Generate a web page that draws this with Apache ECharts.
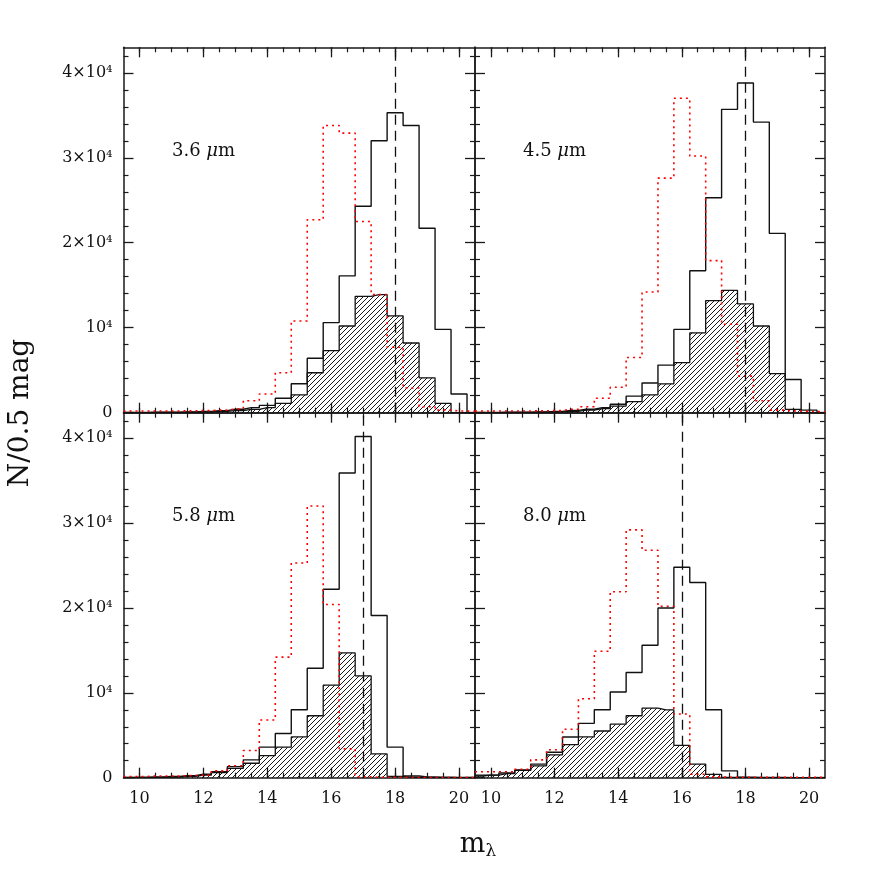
<!DOCTYPE html>
<html><head><meta charset="utf-8">
<script src="https://cdn.jsdelivr.net/npm/echarts@6/dist/echarts.min.js"></script>
<style>html,body{margin:0;padding:0;background:#fff}#c{width:872px;height:872px}</style>
</head><body><div id="c"></div>
<script>
// bin centres (0.5 mag bins)
const binCenters = [9.5,10,10.5,11,11.5,12,12.5,13,13.5,14,14.5,15,15.5,16,16.5,17,17.5,18,18.5,19,19.5,20,20.5];

const panelLabels = ['3.6', '4.5', '5.8', '8.0'];
const cutoffMag = [18, 18, 17, 16];

// 3.6 um
const total36   = [30,40,50,70,100,150,250,400,600,860,1700,3400,6400,10600,16100,24300,32000,35300,33800,21700,9800,2200,0];
const hatched36 = [10,20,30,40,60,100,150,250,400,600,1100,2100,4700,7300,10200,13700,13900,11400,8200,4100,1100,0,0];
const red36     = [200,200,200,200,220,250,300,450,1400,2200,4700,10800,22700,33800,32900,22500,13900,7700,2900,700,300,200,150];
// 4.5 um
const total45   = [30,40,50,70,100,150,270,400,600,1000,1950,3500,5600,9800,16700,25300,35700,38800,34200,21100,3900,300,0];
const hatched45 = [10,20,30,40,60,100,150,300,470,780,1300,2100,3400,5900,9400,13200,14400,12800,10200,4600,400,0,0];
const red45     = [200,200,200,200,220,250,400,700,1700,3000,6500,14200,27600,37000,30200,17900,10400,4300,1400,300,200,150,100];
// 5.8 um
const total58   = [20,50,100,150,230,400,700,1300,2100,3600,5200,8000,12900,22200,35900,40200,19100,3600,200,100,50,30,20];
const hatched58 = [10,20,50,80,150,300,600,1100,1700,2600,3600,4800,7300,10900,14700,12000,2800,150,50,0,0,0,0];
const red58     = [150,150,200,200,250,300,800,1400,3200,6800,14200,25300,32000,20400,3400,100,50,50,30,30,30,30,30];
// 8.0 um
const total80   = [300,300,550,900,1600,3000,4800,6400,8000,10100,12400,15600,20000,24800,23000,8000,800,50,30,20,10,10,10];
const hatched80 = [200,300,470,860,1400,2700,3900,4800,5500,6300,7300,8200,8000,3800,1600,400,50,0,0,0,0,0,0];
const red80     = [700,700,700,1000,2100,3300,5700,9300,14900,21900,29200,26800,20200,7500,400,100,50,50,50,50,50,50,50];

const totals = [total36, total45, total58, total80];
const hatcheds = [hatched36, hatched45, hatched58, hatched80];
const reds = [red36, red45, red58, red80];

const xTickLabels = [10, 12, 14, 16, 18, 20];
const xMinorTicks = [10,10.5,11,11.5,12,12.5,13,13.5,14,14.5,15,15.5,16,16.5,17,17.5,18,18.5,19,19.5,20];
const yTickValues = [0, 10000, 20000, 30000, 40000];
const yTickLabels = ['0', '10⁴', '2×10⁴', '3×10⁴', '4×10⁴'];
const yMinorTicks = [2000,4000,6000,8000,12000,14000,16000,18000,22000,24000,26000,28000,32000,34000,36000,38000,42000];

const X_MIN = 9.5, X_MAX = 20.5, Y_MIN = 0, Y_MAX = 43000;

function hatchCanvas() {
  const s = 5;
  const c = document.createElement('canvas');
  c.width = s; c.height = s;
  const g = c.getContext('2d');
  g.strokeStyle = '#000';
  g.lineWidth = 0.9;
  g.beginPath();
  g.moveTo(0, s); g.lineTo(s, 0);
  g.moveTo(-1, 1); g.lineTo(1, -1);
  g.moveTo(s - 1, s + 1); g.lineTo(s + 1, s - 1);
  g.stroke();
  return c;
}
const hatchPattern = { image: hatchCanvas(), repeat: 'repeat' };

const FONT = 'DejaVu Serif';
const grids = [
  { left: 123.5, top: 47.3, width: 351.5, height: 365.4 },
  { left: 475, top: 47.3, width: 350, height: 365.4 },
  { left: 123.5, top: 412.7, width: 351.5, height: 365 },
  { left: 475, top: 412.7, width: 350, height: 365 }
];

const xAxes = [], yAxes = [], series = [];
const lineCol = '#1a1a1a';
grids.forEach((g, i) => {
  const bottomRow = i >= 2, leftCol = (i % 2) === 0;
  const base = { type: 'value', gridIndex: i, min: X_MIN, max: X_MAX, splitLine: { show: false } };
  xAxes.push(Object.assign({}, base, {
    position: 'bottom',
    axisLine: { show: true, onZero: false, lineStyle: { color: lineCol, width: 1.5 } },
    axisTick: { show: true, inside: true, length: 10, customValues: xTickLabels, lineStyle: { color: lineCol, width: 1.3 } },
    axisLabel: { show: bottomRow, customValues: xTickLabels, margin: 13, color: '#111', fontFamily: FONT, fontSize: 16 }
  }));
  const xMainIndex = xAxes.length - 1;
  xAxes.push(Object.assign({}, base, {
    position: 'bottom',
    axisLine: { show: false, onZero: false },
    axisTick: { show: true, inside: true, length: 5, customValues: xMinorTicks, lineStyle: { color: lineCol, width: 1.2 } },
    axisLabel: { show: false }
  }));
  xAxes.push(Object.assign({}, base, {
    position: 'top',
    axisLine: { show: true, onZero: false, lineStyle: { color: lineCol, width: 1.5 } },
    axisTick: { show: true, inside: true, length: 10, customValues: xTickLabels, lineStyle: { color: lineCol, width: 1.3 } },
    axisLabel: { show: false }
  }));
  xAxes.push(Object.assign({}, base, {
    position: 'top',
    axisLine: { show: false, onZero: false },
    axisTick: { show: true, inside: true, length: 5, customValues: xMinorTicks, lineStyle: { color: lineCol, width: 1.2 } },
    axisLabel: { show: false }
  }));

  const ybase = { type: 'value', gridIndex: i, min: Y_MIN, max: Y_MAX, splitLine: { show: false } };
  yAxes.push(Object.assign({}, ybase, {
    position: 'left',
    axisLine: { show: true, onZero: false, lineStyle: { color: lineCol, width: 1.5 } },
    axisTick: { show: true, inside: true, length: 10, customValues: yTickValues, lineStyle: { color: lineCol, width: 1.3 } },
    axisLabel: {
      show: leftCol, customValues: yTickValues, margin: 11, color: '#111', fontFamily: FONT, fontSize: 16,
      formatter: v => yTickLabels[yTickValues.indexOf(v)]
    }
  }));
  const yMainIndex = yAxes.length - 1;
  yAxes.push(Object.assign({}, ybase, {
    position: 'left',
    axisLine: { show: false, onZero: false },
    axisTick: { show: true, inside: true, length: 5, customValues: yMinorTicks, lineStyle: { color: lineCol, width: 1.2 } },
    axisLabel: { show: false }
  }));
  yAxes.push(Object.assign({}, ybase, {
    position: 'right',
    axisLine: { show: true, onZero: false, lineStyle: { color: lineCol, width: 1.5 } },
    axisTick: { show: true, inside: true, length: 10, customValues: yTickValues, lineStyle: { color: lineCol, width: 1.3 } },
    axisLabel: { show: false }
  }));
  yAxes.push(Object.assign({}, ybase, {
    position: 'right',
    axisLine: { show: false, onZero: false },
    axisTick: { show: true, inside: true, length: 5, customValues: yMinorTicks, lineStyle: { color: lineCol, width: 1.2 } },
    axisLabel: { show: false }
  }));

  const toData = arr => binCenters.map((x, k) => [x, arr[k]]);
  series.push({
    type: 'line', xAxisIndex: xMainIndex, yAxisIndex: yMainIndex, step: 'middle', symbol: 'none', z: 2,
    data: toData(hatcheds[i]),
    lineStyle: { color: '#111', width: 1.3 },
    areaStyle: { color: hatchPattern, opacity: 1 }
  });
  series.push({
    type: 'line', xAxisIndex: xMainIndex, yAxisIndex: yMainIndex, step: 'middle', symbol: 'none', z: 3,
    data: toData(totals[i]),
    lineStyle: { color: '#111', width: 1.4 },
    markLine: {
      silent: true, symbol: ['none', 'none'], label: { show: false },
      lineStyle: { color: '#111', type: [10, 6], width: 1.3 },
      data: [{ xAxis: cutoffMag[i] }]
    }
  });
  series.push({
    type: 'line', xAxisIndex: xMainIndex, yAxisIndex: yMainIndex, step: 'middle', symbol: 'none', z: 4,
    data: toData(reds[i]),
    lineStyle: { color: '#ff0000', width: 1.6, type: [2, 4] }
  });
});

const labelPos = [[172, 154], [523, 154], [172, 519], [523, 519]];
const graphics = panelLabels.map((t, i) => ({
  type: 'text', left: labelPos[i][0], top: labelPos[i][1] - 12,
  style: {
    text: '{n|' + t + ' }{i|μ}{n|m}',
    rich: {
      n: { fontFamily: 'DejaVu Serif', fontSize: 18, fill: '#111' },
      i: { fontFamily: 'DejaVu Serif', fontStyle: 'italic', fontSize: 18, fill: '#111' }
    }
  }
}));
graphics.push({
  type: 'text', x: 21, y: 413, rotation: Math.PI / 2,
  style: { text: 'N/0.5 mag', fontFamily: 'DejaVu Serif', fontSize: 28, fill: '#111', align: 'center', verticalAlign: 'middle' }
});
graphics.push({
  type: 'text', x: 478, y: 845,
  style: {
    text: '{m|m}{s|λ}', align: 'center', verticalAlign: 'middle',
    rich: {
      m: { fontFamily: 'DejaVu Serif', fontSize: 27, fill: '#111' },
      s: { fontFamily: 'DejaVu Serif', fontSize: 17, fill: '#111', padding: [14, 0, 0, 0] }
    }
  }
});

const chart = echarts.init(document.getElementById('c'), null, { renderer: 'canvas' });
chart.setOption({
  animation: false,
  backgroundColor: '#fff',
  grid: grids.map(g => Object.assign({ containLabel: false }, g)),
  xAxis: xAxes,
  yAxis: yAxes,
  series: series,
  graphic: graphics
});
</script>
</body></html>
